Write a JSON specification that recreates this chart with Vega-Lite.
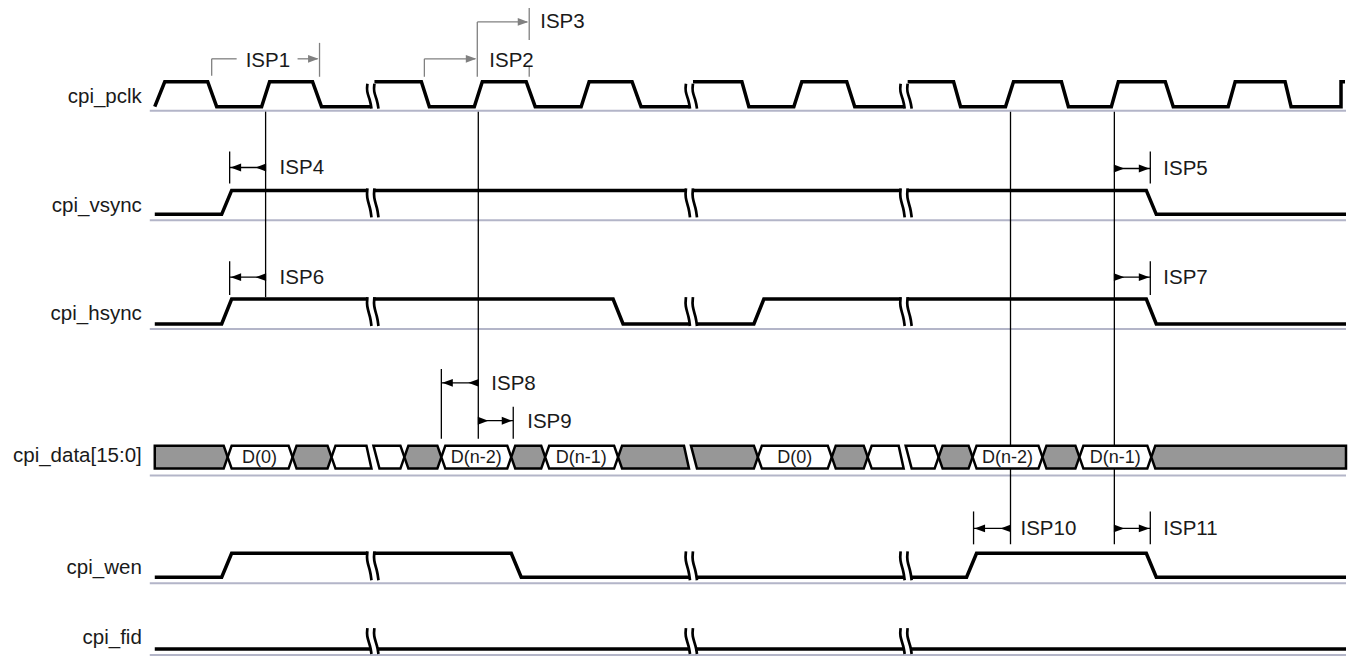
{
"$schema":"https://vega.github.io/schema/vega-lite/v6.json",
"width":1353,"height":660,"padding":0,
"autosize":{"type":"fit","contains":"padding"},
"background":"white",
"config":{"view":{"stroke":null}},
"datasets":{
"base":[{"y":111},{"y":221},{"y":330},{"y":477},{"y":585},{"y":657}],
"names":[{"n":"cpi_pclk","y":97},{"n":"cpi_vsync","y":207},{"n":"cpi_hsync","y":315},{"n":"cpi_data[15:0]","y":457},{"n":"cpi_wen","y":570},{"n":"cpi_fid","y":640}],
"wave":[
{"s":"pa","x":155,"y":107},{"s":"pa","x":165,"y":82},{"s":"pa","x":208,"y":82},{"s":"pa","x":217,"y":107},{"s":"pa","x":262,"y":107},{"s":"pa","x":270,"y":82},{"s":"pa","x":313,"y":82},{"s":"pa","x":322,"y":107},{"s":"pa","x":371,"y":107},
{"s":"pb","x":375,"y":82},{"s":"pb","x":422,"y":82},{"s":"pb","x":430,"y":107},{"s":"pb","x":475,"y":107},{"s":"pb","x":483,"y":82},{"s":"pb","x":527,"y":82},{"s":"pb","x":536,"y":107},{"s":"pb","x":582,"y":107},{"s":"pb","x":590,"y":82},{"s":"pb","x":633,"y":82},{"s":"pb","x":642,"y":107},{"s":"pb","x":690,"y":107},
{"s":"pc","x":694,"y":82},{"s":"pc","x":743,"y":82},{"s":"pc","x":750,"y":107},{"s":"pc","x":795,"y":107},{"s":"pc","x":803,"y":82},{"s":"pc","x":848,"y":82},{"s":"pc","x":856,"y":107},{"s":"pc","x":905,"y":107},
{"s":"pd","x":909,"y":82},{"s":"pd","x":955,"y":82},{"s":"pd","x":962,"y":107},{"s":"pd","x":1007,"y":107},{"s":"pd","x":1015,"y":82},{"s":"pd","x":1063,"y":82},{"s":"pd","x":1070,"y":107},{"s":"pd","x":1113,"y":107},{"s":"pd","x":1120,"y":82},{"s":"pd","x":1167,"y":82},{"s":"pd","x":1175,"y":107},{"s":"pd","x":1230,"y":107},{"s":"pd","x":1237,"y":82},{"s":"pd","x":1287,"y":82},{"s":"pd","x":1293,"y":107},{"s":"pd","x":1343,"y":107},{"s":"pd","x":1343,"y":82},{"s":"pd","x":1347,"y":82},
{"s":"va","x":155,"y":215},{"s":"va","x":222,"y":215},{"s":"va","x":232,"y":191},{"s":"va","x":368,"y":191},
{"s":"vb","x":375,"y":191},{"s":"vb","x":687,"y":191},
{"s":"vc","x":694,"y":191},{"s":"vc","x":902,"y":191},
{"s":"vd","x":909,"y":191},{"s":"vd","x":1148,"y":191},{"s":"vd","x":1158,"y":215},{"s":"vd","x":1348,"y":215},
{"s":"ha","x":155,"y":325},{"s":"ha","x":222,"y":325},{"s":"ha","x":232,"y":300},{"s":"ha","x":368,"y":300},
{"s":"hb","x":375,"y":300},{"s":"hb","x":614,"y":300},{"s":"hb","x":624,"y":325},{"s":"hb","x":690,"y":325},
{"s":"hc","x":697,"y":325},{"s":"hc","x":755,"y":325},{"s":"hc","x":765,"y":300},{"s":"hc","x":902,"y":300},
{"s":"hd","x":909,"y":300},{"s":"hd","x":1148,"y":300},{"s":"hd","x":1158,"y":325},{"s":"hd","x":1348,"y":325},
{"s":"wa","x":155,"y":579},{"s":"wa","x":222,"y":579},{"s":"wa","x":232,"y":555},{"s":"wa","x":368,"y":555},
{"s":"wb","x":375,"y":555},{"s":"wb","x":512,"y":555},{"s":"wb","x":522,"y":579},{"s":"wb","x":690,"y":579},
{"s":"wc","x":697,"y":579},{"s":"wc","x":905,"y":579},
{"s":"wd","x":912,"y":579},{"s":"wd","x":968,"y":579},{"s":"wd","x":978,"y":555},{"s":"wd","x":1148,"y":555},{"s":"wd","x":1158,"y":579},{"s":"wd","x":1348,"y":579},
{"s":"fa","x":155,"y":651},{"s":"fa","x":371,"y":651},
{"s":"fb","x":378,"y":651},{"s":"fb","x":690,"y":651},
{"s":"fc","x":697,"y":651},{"s":"fc","x":905,"y":651},
{"s":"fd","x":912,"y":651},{"s":"fd","x":1348,"y":651}
],
"brk":[
{"s":"p1","x":368,"y":84},{"s":"p1","x":367,"y":91.5},{"s":"p1","x":371,"y":101.5},{"s":"p1","x":372,"y":109},
{"s":"p2","x":375,"y":84},{"s":"p2","x":374,"y":91.5},{"s":"p2","x":378,"y":101.5},{"s":"p2","x":379,"y":109},
{"s":"p3","x":687,"y":84},{"s":"p3","x":686,"y":91.5},{"s":"p3","x":690,"y":101.5},{"s":"p3","x":691,"y":109},
{"s":"p4","x":694,"y":84},{"s":"p4","x":693,"y":91.5},{"s":"p4","x":697,"y":101.5},{"s":"p4","x":698,"y":109},
{"s":"p5","x":902,"y":84},{"s":"p5","x":901,"y":91.5},{"s":"p5","x":905,"y":101.5},{"s":"p5","x":906,"y":109},
{"s":"p6","x":909,"y":84},{"s":"p6","x":908,"y":91.5},{"s":"p6","x":912,"y":101.5},{"s":"p6","x":913,"y":109},
{"s":"v1","x":368,"y":189},{"s":"v1","x":367,"y":197.7},{"s":"v1","x":371,"y":209.3},{"s":"v1","x":372,"y":218},
{"s":"v2","x":375,"y":189},{"s":"v2","x":374,"y":197.7},{"s":"v2","x":378,"y":209.3},{"s":"v2","x":379,"y":218},
{"s":"v3","x":687,"y":189},{"s":"v3","x":686,"y":197.7},{"s":"v3","x":690,"y":209.3},{"s":"v3","x":691,"y":218},
{"s":"v4","x":694,"y":189},{"s":"v4","x":693,"y":197.7},{"s":"v4","x":697,"y":209.3},{"s":"v4","x":698,"y":218},
{"s":"v5","x":902,"y":189},{"s":"v5","x":901,"y":197.7},{"s":"v5","x":905,"y":209.3},{"s":"v5","x":906,"y":218},
{"s":"v6","x":909,"y":189},{"s":"v6","x":908,"y":197.7},{"s":"v6","x":912,"y":209.3},{"s":"v6","x":913,"y":218},
{"s":"h1","x":368,"y":298},{"s":"h1","x":367,"y":306.7},{"s":"h1","x":371,"y":318.3},{"s":"h1","x":372,"y":327},
{"s":"h2","x":375,"y":298},{"s":"h2","x":374,"y":306.7},{"s":"h2","x":378,"y":318.3},{"s":"h2","x":379,"y":327},
{"s":"h3","x":687,"y":298},{"s":"h3","x":686,"y":306.7},{"s":"h3","x":690,"y":318.3},{"s":"h3","x":691,"y":327},
{"s":"h4","x":694,"y":298},{"s":"h4","x":693,"y":306.7},{"s":"h4","x":697,"y":318.3},{"s":"h4","x":698,"y":327},
{"s":"h5","x":902,"y":298},{"s":"h5","x":901,"y":306.7},{"s":"h5","x":905,"y":318.3},{"s":"h5","x":906,"y":327},
{"s":"h6","x":909,"y":298},{"s":"h6","x":908,"y":306.7},{"s":"h6","x":912,"y":318.3},{"s":"h6","x":913,"y":327},
{"s":"w1","x":368,"y":553},{"s":"w1","x":367,"y":561.7},{"s":"w1","x":371,"y":573.3},{"s":"w1","x":372,"y":582},
{"s":"w2","x":375,"y":553},{"s":"w2","x":374,"y":561.7},{"s":"w2","x":378,"y":573.3},{"s":"w2","x":379,"y":582},
{"s":"w3","x":687,"y":553},{"s":"w3","x":686,"y":561.7},{"s":"w3","x":690,"y":573.3},{"s":"w3","x":691,"y":582},
{"s":"w4","x":694,"y":553},{"s":"w4","x":693,"y":561.7},{"s":"w4","x":697,"y":573.3},{"s":"w4","x":698,"y":582},
{"s":"w5","x":902,"y":553},{"s":"w5","x":901,"y":561.7},{"s":"w5","x":905,"y":573.3},{"s":"w5","x":906,"y":582},
{"s":"w6","x":909,"y":553},{"s":"w6","x":908,"y":561.7},{"s":"w6","x":912,"y":573.3},{"s":"w6","x":913,"y":582},
{"s":"f1","x":368,"y":630},{"s":"f1","x":367,"y":637.8},{"s":"f1","x":371,"y":648.2},{"s":"f1","x":372,"y":656},
{"s":"f2","x":375,"y":630},{"s":"f2","x":374,"y":637.8},{"s":"f2","x":378,"y":648.2},{"s":"f2","x":379,"y":656},
{"s":"f3","x":687,"y":630},{"s":"f3","x":686,"y":637.8},{"s":"f3","x":690,"y":648.2},{"s":"f3","x":691,"y":656},
{"s":"f4","x":694,"y":630},{"s":"f4","x":693,"y":637.8},{"s":"f4","x":697,"y":648.2},{"s":"f4","x":698,"y":656},
{"s":"f5","x":902,"y":630},{"s":"f5","x":901,"y":637.8},{"s":"f5","x":905,"y":648.2},{"s":"f5","x":906,"y":656},
{"s":"f6","x":909,"y":630},{"s":"f6","x":908,"y":637.8},{"s":"f6","x":912,"y":648.2},{"s":"f6","x":913,"y":656}
],
"bus":[
{"s":"b01","v":"invalid","x":155,"t":447,"b":470},{"s":"b01","v":"invalid","x":224,"t":447,"b":470},{"s":"b01","v":"invalid","x":228,"t":458.5,"b":458.5},
{"s":"b02","v":"valid","x":228,"t":458.5,"b":458.5},{"s":"b02","v":"valid","x":232,"t":447,"b":470},{"s":"b02","v":"valid","x":289,"t":447,"b":470},{"s":"b02","v":"valid","x":293,"t":458.5,"b":458.5},
{"s":"b03","v":"invalid","x":293,"t":458.5,"b":458.5},{"s":"b03","v":"invalid","x":297,"t":447,"b":470},{"s":"b03","v":"invalid","x":328,"t":447,"b":470},{"s":"b03","v":"invalid","x":332,"t":458.5,"b":458.5},
{"s":"b04","v":"valid","x":332,"t":458.5,"b":458.5},{"s":"b04","v":"valid","x":336,"t":447,"b":470},{"s":"b04","v":"valid","x":367,"t":447,"b":470},{"s":"b04","v":"valid","x":372,"t":470,"b":470},
{"s":"b05","v":"valid","x":374,"t":447,"b":447},{"s":"b05","v":"valid","x":380,"t":447,"b":470},{"s":"b05","v":"valid","x":401,"t":447,"b":470},{"s":"b05","v":"valid","x":405,"t":458.5,"b":458.5},
{"s":"b06","v":"invalid","x":405,"t":458.5,"b":458.5},{"s":"b06","v":"invalid","x":409,"t":447,"b":470},{"s":"b06","v":"invalid","x":438,"t":447,"b":470},{"s":"b06","v":"invalid","x":442,"t":458.5,"b":458.5},
{"s":"b07","v":"valid","x":442,"t":458.5,"b":458.5},{"s":"b07","v":"valid","x":446,"t":447,"b":470},{"s":"b07","v":"valid","x":508,"t":447,"b":470},{"s":"b07","v":"valid","x":512,"t":458.5,"b":458.5},
{"s":"b08","v":"invalid","x":512,"t":458.5,"b":458.5},{"s":"b08","v":"invalid","x":516,"t":447,"b":470},{"s":"b08","v":"invalid","x":542,"t":447,"b":470},{"s":"b08","v":"invalid","x":546,"t":458.5,"b":458.5},
{"s":"b09","v":"valid","x":546,"t":458.5,"b":458.5},{"s":"b09","v":"valid","x":550,"t":447,"b":470},{"s":"b09","v":"valid","x":615,"t":447,"b":470},{"s":"b09","v":"valid","x":619,"t":458.5,"b":458.5},
{"s":"b10","v":"invalid","x":619,"t":458.5,"b":458.5},{"s":"b10","v":"invalid","x":623,"t":447,"b":470},{"s":"b10","v":"invalid","x":685,"t":447,"b":470},{"s":"b10","v":"invalid","x":690,"t":470,"b":470},
{"s":"b11","v":"invalid","x":692,"t":447,"b":447},{"s":"b11","v":"invalid","x":698,"t":447,"b":470},{"s":"b11","v":"invalid","x":755,"t":447,"b":470},{"s":"b11","v":"invalid","x":759,"t":458.5,"b":458.5},
{"s":"b12","v":"valid","x":759,"t":458.5,"b":458.5},{"s":"b12","v":"valid","x":763,"t":447,"b":470},{"s":"b12","v":"valid","x":829,"t":447,"b":470},{"s":"b12","v":"valid","x":833,"t":458.5,"b":458.5},
{"s":"b13","v":"invalid","x":833,"t":458.5,"b":458.5},{"s":"b13","v":"invalid","x":837,"t":447,"b":470},{"s":"b13","v":"invalid","x":865,"t":447,"b":470},{"s":"b13","v":"invalid","x":869,"t":458.5,"b":458.5},
{"s":"b14","v":"valid","x":869,"t":458.5,"b":458.5},{"s":"b14","v":"valid","x":873,"t":447,"b":470},{"s":"b14","v":"valid","x":900,"t":447,"b":470},{"s":"b14","v":"valid","x":905,"t":470,"b":470},
{"s":"b15","v":"valid","x":907,"t":447,"b":447},{"s":"b15","v":"valid","x":913,"t":447,"b":470},{"s":"b15","v":"valid","x":936,"t":447,"b":470},{"s":"b15","v":"valid","x":940,"t":458.5,"b":458.5},
{"s":"b16","v":"invalid","x":940,"t":458.5,"b":458.5},{"s":"b16","v":"invalid","x":944,"t":447,"b":470},{"s":"b16","v":"invalid","x":970,"t":447,"b":470},{"s":"b16","v":"invalid","x":974,"t":458.5,"b":458.5},
{"s":"b17","v":"valid","x":974,"t":458.5,"b":458.5},{"s":"b17","v":"valid","x":978,"t":447,"b":470},{"s":"b17","v":"valid","x":1040,"t":447,"b":470},{"s":"b17","v":"valid","x":1044,"t":458.5,"b":458.5},
{"s":"b18","v":"invalid","x":1044,"t":458.5,"b":458.5},{"s":"b18","v":"invalid","x":1048,"t":447,"b":470},{"s":"b18","v":"invalid","x":1077,"t":447,"b":470},{"s":"b18","v":"invalid","x":1081,"t":458.5,"b":458.5},
{"s":"b19","v":"valid","x":1081,"t":458.5,"b":458.5},{"s":"b19","v":"valid","x":1085,"t":447,"b":470},{"s":"b19","v":"valid","x":1149,"t":447,"b":470},{"s":"b19","v":"valid","x":1153,"t":458.5,"b":458.5},
{"s":"b20","v":"invalid","x":1153,"t":458.5,"b":458.5},{"s":"b20","v":"invalid","x":1157,"t":447,"b":470},{"s":"b20","v":"invalid","x":1348,"t":447,"b":470}
],
"buslab":[{"l":"D(0)","x":260},{"l":"D(n-2)","x":477},{"l":"D(n-1)","x":582},{"l":"D(0)","x":796},{"l":"D(n-2)","x":1009},{"l":"D(n-1)","x":1117}],
"vr":[
{"c":"k","x":266,"y":112,"y2":298},{"c":"k","x":479,"y":112,"y2":440},{"c":"k","x":1012,"y":112,"y2":546},{"c":"k","x":1116,"y":112,"y2":546},
{"c":"k","x":230,"y":152,"y2":184},{"c":"k","x":230,"y":262,"y2":296},{"c":"k","x":1152,"y":152,"y2":184},{"c":"k","x":1152,"y":262,"y2":296},
{"c":"k","x":442,"y":370,"y2":440},{"c":"k","x":514,"y":408,"y2":440},{"c":"k","x":975,"y":513,"y2":546},{"c":"k","x":1152,"y":513,"y2":546},
{"c":"g","x":212,"y":59,"y2":76},{"c":"g","x":320,"y":43,"y2":77},{"c":"g","x":425,"y":59,"y2":77},{"c":"g","x":478,"y":22,"y2":77},{"c":"g","x":530,"y":8,"y2":40},{"c":"g","x":530,"y":66,"y2":77}
],
"hr":[
{"c":"k","x":230,"x2":266,"y":168},{"c":"k","x":230,"x2":266,"y":278},{"c":"k","x":1116,"x2":1152,"y":169},{"c":"k","x":1116,"x2":1152,"y":278},
{"c":"k","x":442,"x2":479,"y":384},{"c":"k","x":479,"x2":514,"y":422},{"c":"k","x":975,"x2":1012,"y":530},{"c":"k","x":1116,"x2":1152,"y":530},
{"c":"g","x":212,"x2":237,"y":59},{"c":"g","x":298,"x2":318,"y":59},{"c":"g","x":425,"x2":476,"y":59},{"c":"g","x":478,"x2":528,"y":22}
],
"arr":[
{"c":"k","d":"L","x":231,"y":168},{"c":"k","d":"L","x":256,"y":168},{"c":"k","d":"L","x":231,"y":278},{"c":"k","d":"L","x":256,"y":278},
{"c":"k","d":"L","x":443,"y":384},{"c":"k","d":"L","x":469,"y":384},{"c":"k","d":"L","x":976,"y":530},{"c":"k","d":"L","x":1002,"y":530},
{"c":"k","d":"R","x":1126,"y":169},{"c":"k","d":"R","x":1151,"y":169},{"c":"k","d":"R","x":1126,"y":278},{"c":"k","d":"R","x":1151,"y":278},
{"c":"k","d":"R","x":489,"y":422},{"c":"k","d":"R","x":513,"y":422},{"c":"k","d":"R","x":1126,"y":530},{"c":"k","d":"R","x":1151,"y":530},
{"c":"g","d":"R","x":319,"y":59},{"c":"g","d":"R","x":477,"y":59},{"c":"g","d":"R","x":529,"y":22}
],
"isp":[
{"t":"ISP1","x":246,"y":61},{"t":"ISP2","x":490,"y":61},{"t":"ISP3","x":541,"y":22},{"t":"ISP4","x":280,"y":169},{"t":"ISP5","x":1165,"y":170},
{"t":"ISP6","x":280,"y":279},{"t":"ISP7","x":1165,"y":279},{"t":"ISP8","x":492,"y":385},{"t":"ISP9","x":528,"y":423},{"t":"ISP10","x":1022,"y":531},{"t":"ISP11","x":1165,"y":531}
]
},
"layer":[
{"data":{"name":"base"},"mark":{"type":"rule","color":"#b3b5c8","strokeWidth":2},
 "encoding":{"x":{"datum":150,"type":"quantitative","scale":{"domain":[0,1353],"nice":false,"zero":false},"axis":null},"x2":{"datum":1348},
 "y":{"field":"y","type":"quantitative","scale":{"domain":[660,0],"nice":false,"zero":false},"axis":null}}},
{"data":{"name":"names"},"mark":{"type":"text","align":"right","baseline":"middle","fontSize":20.5,"font":"Liberation Sans","color":"#1a1a1a"},
 "encoding":{"x":{"datum":142,"type":"quantitative"},"y":{"field":"y","type":"quantitative"},"text":{"field":"n"}}},
{"data":{"name":"vr"},"mark":{"type":"rule","strokeWidth":1.3},
 "encoding":{"x":{"field":"x","type":"quantitative"},"y":{"field":"y","type":"quantitative"},"y2":{"field":"y2"},
 "color":{"field":"c","type":"nominal","scale":{"domain":["k","g"],"range":["#000000","#808080"]},"legend":null}}},
{"data":{"name":"hr"},"mark":{"type":"rule","strokeWidth":1.3},
 "encoding":{"x":{"field":"x","type":"quantitative"},"x2":{"field":"x2"},"y":{"field":"y","type":"quantitative"},
 "color":{"field":"c","type":"nominal","legend":null}}},
{"data":{"name":"arr"},"mark":{"type":"point","filled":true,"opacity":1,"strokeWidth":0},
 "encoding":{"x":{"field":"x","type":"quantitative"},"y":{"field":"y","type":"quantitative"},
 "shape":{"field":"d","type":"nominal","scale":{"domain":["L","R"],"range":["M 0 0 L 2 -0.75 L 2 0.75 Z","M 0 0 L -2 -0.75 L -2 0.75 Z"]},"legend":null},
 "size":{"value":110},
 "color":{"field":"c","type":"nominal","legend":null}}},
{"data":{"name":"wave"},"mark":{"type":"line","color":"black","strokeWidth":3.5,"strokeJoin":"miter","strokeCap":"butt"},
 "encoding":{"x":{"field":"x","type":"quantitative"},"y":{"field":"y","type":"quantitative"},"detail":{"field":"s"},"order":{"value":null}}},
{"data":{"name":"brk"},"mark":{"type":"line","color":"black","strokeWidth":2.7,"interpolate":"basis"},
 "encoding":{"x":{"field":"x","type":"quantitative"},"y":{"field":"y","type":"quantitative"},"detail":{"field":"s"},"order":{"value":null}}},
{"data":{"name":"bus"},"mark":{"type":"area","stroke":"black","strokeWidth":2.5,"strokeJoin":"miter","opacity":1},
 "encoding":{"x":{"field":"x","type":"quantitative"},"y":{"field":"t","type":"quantitative","stack":null},"y2":{"field":"b"},
 "detail":{"field":"s"},
 "fill":{"field":"v","type":"nominal","scale":{"domain":["valid","invalid"],"range":["#ffffff","#979797"]},"legend":null}}},
{"data":{"name":"buslab"},"mark":{"type":"text","align":"center","baseline":"middle","fontSize":18,"font":"Liberation Sans","color":"#1a1a1a"},
 "encoding":{"x":{"field":"x","type":"quantitative"},"y":{"datum":459,"type":"quantitative"},"text":{"field":"l"}}},
{"data":{"name":"isp"},"mark":{"type":"text","align":"left","baseline":"middle","fontSize":20.5,"font":"Liberation Sans","color":"#1a1a1a"},
 "encoding":{"x":{"field":"x","type":"quantitative"},"y":{"field":"y","type":"quantitative"},"text":{"field":"t"}}}
]
}
